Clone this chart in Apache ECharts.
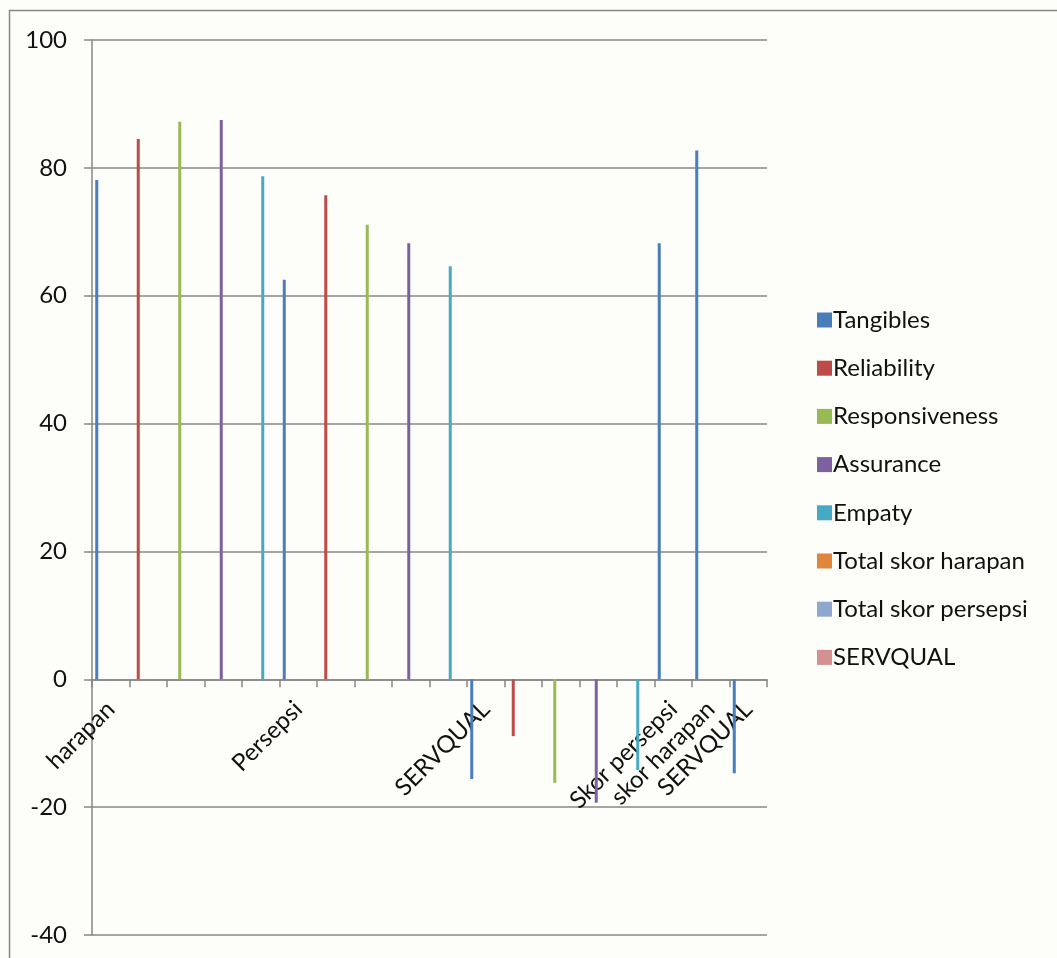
<!DOCTYPE html>
<html>
<head>
<meta charset="utf-8">
<style>
  html, body { margin: 0; padding: 0; background: #fdfdf9; }
  #chart { width: 1057px; height: 958px; }
</style>
<script src="https://cdn.jsdelivr.net/npm/echarts@6/dist/echarts.min.js"></script>
</head>
<body>
<div id="chart"></div>
<script>
// Category labels along the x axis (blank slots keep their place)
const categories = [
  'harapan', '', '', '', '',
  'Persepsi', '', '', '', '',
  'SERVQUAL', '', '', '', '',
  'Skor persepsi', 'skor harapan', 'SERVQUAL'
];

// Series values, one entry per category (null = no bar)
const tangibles      = [78.1, null, null, null, null, 62.5, null, null, null, null, -15.6, null, null, null, null, 68.2, 82.7, -14.7];
const reliability    = [null, 84.5, null, null, null, null, 75.7, null, null, null, null, -8.9, null, null, null, null, null, null];
const responsiveness = [null, null, 87.2, null, null, null, null, 71.1, null, null, null, null, -16.2, null, null, null, null, null];
const assurance      = [null, null, null, 87.5, null, null, null, null, 68.2, null, null, null, null, -19.3, null, null, null, null];
const empaty         = [null, null, null, null, 78.7, null, null, null, null, 64.6, null, null, null, null, -14.2, null, null, null];
const totalHarapan   = [null, null, null, null, null, null, null, null, null, null, null, null, null, null, null, null, null, null];
const totalPersepsi  = [null, null, null, null, null, null, null, null, null, null, null, null, null, null, null, null, null, null];
const servqual       = [null, null, null, null, null, null, null, null, null, null, null, null, null, null, null, null, null, null];

const seriesNames = ['Tangibles', 'Reliability', 'Responsiveness', 'Assurance', 'Empaty',
                     'Total skor harapan', 'Total skor persepsi', 'SERVQUAL'];
const seriesData = [tangibles, reliability, responsiveness, assurance, empaty,
                    totalHarapan, totalPersepsi, servqual];
const seriesColors = ['#4a7ebb', '#be4b48', '#98b954', '#7d60a0', '#46aac5',
                      '#e0853c', '#8fa6ce', '#d49191'];

// Y axis range and step
const yMin = -40, yMax = 100, yStep = 20;

const FONT = 'Lato, "Open Sans", sans-serif';
const GRAY = '#878787';
const FS = 24;

const W = 1057, H = 958;
const gridTop = 40, gridBottom = 23;
const gridHeight = H - gridTop - gridBottom;
// Lift the category axis from the grid bottom up to the value-zero line
const xAxisOffset = -((0 - yMin) / (yMax - yMin)) * gridHeight;

const chart = echarts.init(document.getElementById('chart'), null, { renderer: 'canvas' });

chart.setOption({
  backgroundColor: '#fdfdf9',
  animation: false,
  color: seriesColors,
  textStyle: { fontFamily: FONT },
  grid: {
    left: 92, right: 290, top: gridTop, bottom: gridBottom,
    containLabel: false, outerBoundsMode: 'none'
  },
  graphic: [{
    type: 'rect',
    silent: true,
    shape: { x: 9.5, y: 10.5, width: 1100, height: 1000 },
    style: { fill: 'none', stroke: GRAY, lineWidth: 1.5 }
  }],
  legend: {
    orient: 'vertical',
    left: 812,
    top: 303,
    itemWidth: 15,
    itemHeight: 15,
    itemGap: 24.2,
    icon: 'rect',
    textStyle: { fontFamily: FONT, fontSize: FS, color: '#111', padding: [0, 0, 0, -4] },
    data: seriesNames
  },
  xAxis: {
    type: 'category',
    data: categories,
    boundaryGap: true,
    offset: xAxisOffset,
    axisLine: { onZero: false, lineStyle: { color: GRAY, width: 1.5 } },
    axisTick: { show: true, interval: 0, length: 8, lineStyle: { color: GRAY, width: 1.5 } },
    axisLabel: {
      interval: 0,
      rotate: 45,
      margin: 26,
      fontFamily: FONT,
      fontSize: FS,
      color: '#111'
    },
    splitLine: { show: false }
  },
  yAxis: {
    type: 'value',
    min: yMin,
    max: yMax,
    interval: yStep,
    axisLine: { show: true, lineStyle: { color: GRAY, width: 1.5 } },
    axisTick: { show: true, length: 8, lineStyle: { color: GRAY, width: 1.5 } },
    axisLabel: { margin: 25, fontFamily: FONT, fontSize: FS, color: '#111' },
    splitLine: { show: true, lineStyle: { color: GRAY, width: 1.5 } }
  },
  series: seriesNames.map((name, i) => ({
    name: name,
    type: 'bar',
    data: seriesData[i],
    barWidth: 3,
    barGap: '33.3%',
    itemStyle: { color: seriesColors[i] }
  }))
});
</script>
</body>
</html>
